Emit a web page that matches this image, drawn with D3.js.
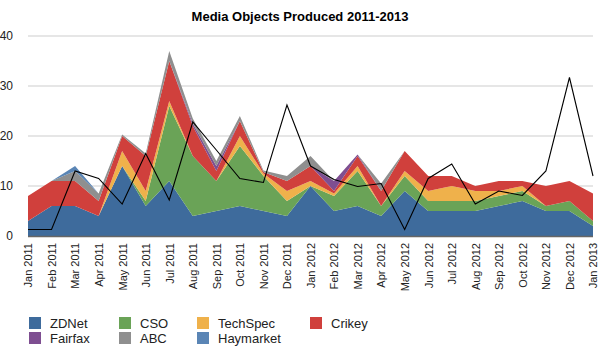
<!DOCTYPE html>
<html><head><meta charset="utf-8">
<script src="https://cdn.jsdelivr.net/npm/d3@7"></script>
<style>body{margin:0;background:#fff;}svg{display:block;font-family:"Liberation Sans",Arial,Helvetica,sans-serif;}</style>
</head><body><svg id="c" width="600" height="355"></svg>
<script>
const months = ["Jan 2011","Feb 2011","Mar 2011","Apr 2011","May 2011","Jun 2011","Jul 2011","Aug 2011","Sep 2011","Oct 2011","Nov 2011","Dec 2011","Jan 2012","Feb 2012","Mar 2012","Apr 2012","May 2012","Jun 2012","Jul 2012","Aug 2012","Sep 2012","Oct 2012","Nov 2012","Dec 2012","Jan 2013"];
const seriesNames = ["ZDNet","CSO","TechSpec","Crikey","Fairfax","ABC","Haymarket"];
const zdnet     = [3,6,6,4,14,6,11,4,5,6,5,4,10,5,6,4,9,5,5,5,6,7,5,5,2];
const cso       = [0,0,0,0,0,1,15,12,6,12,7,3,0,3,7,2,3,2,2,2,2,2,1,2,1];
const techspec  = [0,0,0,0,3,2,1,0,0,2,0.5,2,1,0.5,1,0,1,2,3,2,1,1,0,0,0];
const crikey    = [5,5,5,3,3,7,8,6,2,3,0.3,2,3,0.5,2,3,4,3,2,1,2,1,4,4,5.5];
const fairfax   = [0,0,0,0,0,0,0,0.5,1,0,0,0,0,2,0.3,0,0,0,0,0,0,0,0,0,0];
const abc       = [0,0,2,1.5,0.3,0.5,2,1,1,1,0.3,1,2,0,0,1.5,0,0,0,0,0,0,0,0,0];
const haymarket = [0,0,1,0,0,0,0,0,0,0,0,0,0,0,0,0,0,0,0,0,0,0,0,0,0];
const lineValues = [1.3,1.3,13,11.5,6.4,16.5,7.2,22.8,17.2,11.5,10.7,26.2,14,11.3,9.9,10.5,1.3,11.5,14.4,6.4,9,8.1,13,31.7,12];
const yTicks = [0,10,20,30,40];
const colors = ["#3e6b9c","#6aa357","#efb14b","#d0403c","#7e4e91","#8f8f8f","#5a85b5"];
const title = "Media Objects Produced 2011-2013";

const seriesData = [zdnet,cso,techspec,crikey,fairfax,abc,haymarket];
const rows = months.map((m,i)=>{const r={month:m}; seriesNames.forEach((s,j)=>r[s]=seriesData[j][i]); return r;});

const svg = d3.select("#c");
const x = d3.scalePoint().domain(months).range([28,593]);
const y = d3.scaleLinear().domain([0,40]).range([236,36]);

svg.append("text").attr("x",300).attr("y",21).attr("text-anchor","middle")
  .attr("font-size",13).attr("font-weight","bold").text(title);

svg.append("g").selectAll("line").data(yTicks.filter(d=>d>0)).join("line")
  .attr("x1",28).attr("x2",593).attr("y1",d=>y(d)).attr("y2",d=>y(d))
  .attr("stroke","#cdcdcd").attr("stroke-width",1.2);

const yAxis = svg.append("g").attr("transform","translate(28,0)")
  .call(d3.axisLeft(y).tickValues(yTicks).tickSize(0).tickPadding(15));
yAxis.select(".domain").remove();
yAxis.selectAll("text").attr("font-size",12).attr("fill","#222").attr("font-family","Liberation Sans, Arial, sans-serif");

const stack = d3.stack().keys(seriesNames);
const layers = stack(rows);
const area = d3.area().x((d,i)=>x(months[i])).y0(d=>y(d[0])).y1(d=>y(d[1]));
svg.append("g").selectAll("path").data(layers).join("path")
  .attr("d",area).attr("fill",(d,i)=>colors[i]);

svg.append("line").attr("x1",28).attr("x2",593).attr("y1",y(0)+0.5).attr("y2",y(0)+0.5)
  .attr("stroke","#666").attr("stroke-width",1.5);

const line = d3.line().x((d,i)=>x(months[i])).y(d=>y(d));
svg.append("path").datum(lineValues).attr("d",line).attr("fill","none")
  .attr("stroke","#000").attr("stroke-width",1.1);

const xAxis = svg.append("g").attr("transform",`translate(0,${y(0)})`)
  .call(d3.axisBottom(x).tickSize(0).tickPadding(0));
xAxis.select(".domain").remove();
xAxis.selectAll("text").attr("font-size",11).attr("fill","#222")
  .attr("font-family","Liberation Sans, Arial, sans-serif")
  .attr("transform","rotate(-90)").attr("text-anchor","end")
  .attr("x",-7).attr("y",0).attr("dy","0.35em");

const legendPos = [[29,317],[119,317],[197,317],[310,317],[29,332],[119,332],[197,332]];
const lg = svg.append("g").selectAll("g").data(seriesNames).join("g")
  .attr("transform",(d,i)=>`translate(${legendPos[i][0]},${legendPos[i][1]})`);
lg.append("rect").attr("width",12).attr("height",12).attr("fill",(d,i)=>colors[i]);
lg.append("text").attr("x",21).attr("y",10.5).attr("font-size",13).attr("fill","#222").text(d=>d);
</script></body></html>
